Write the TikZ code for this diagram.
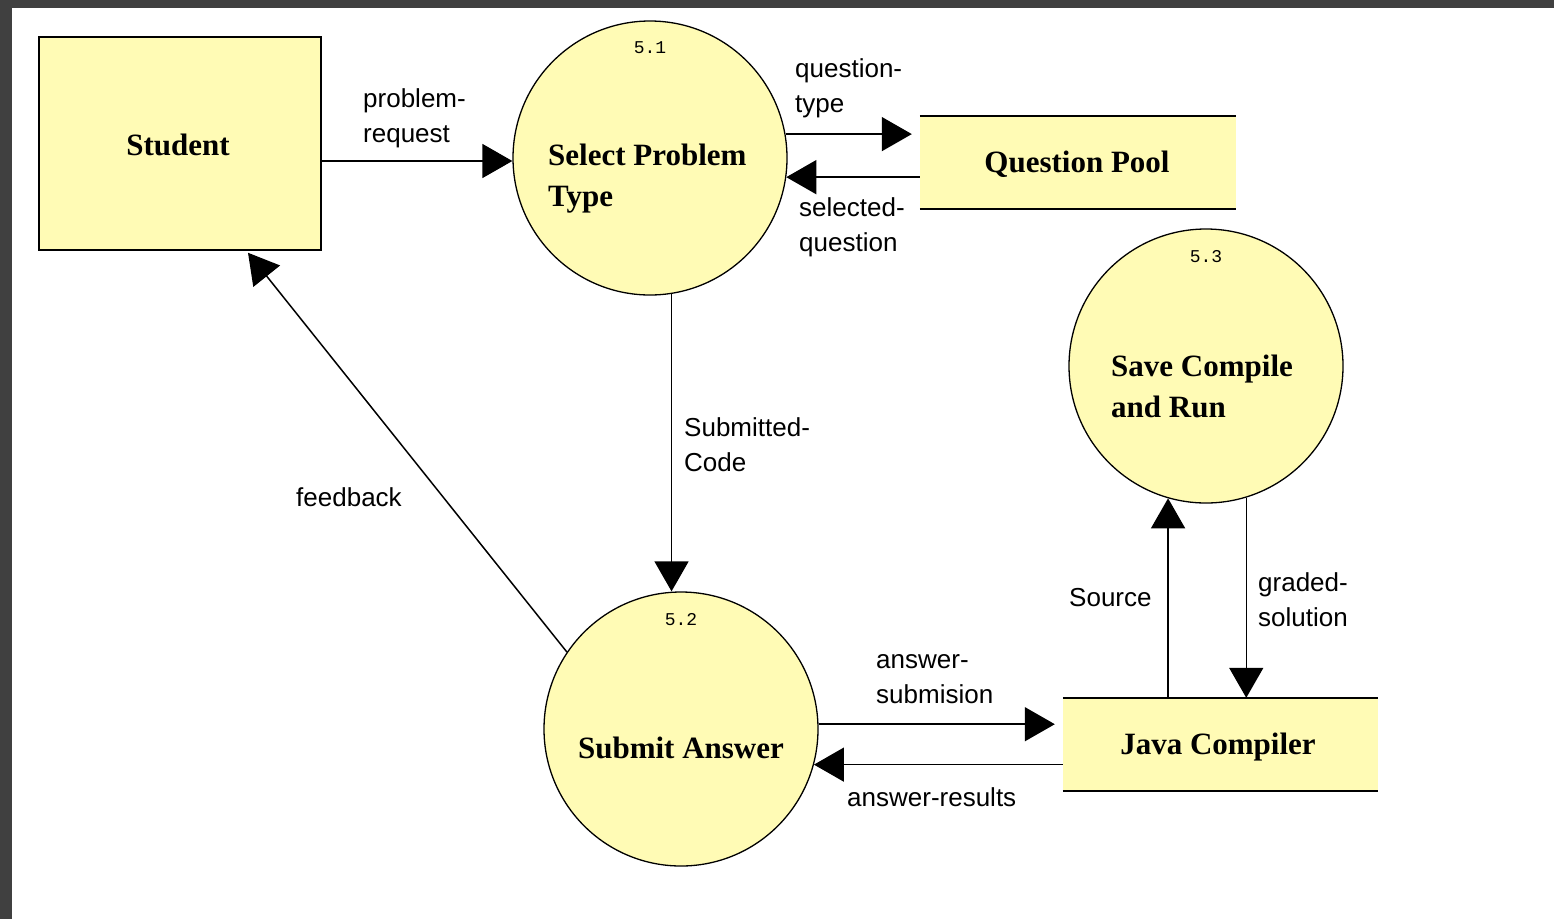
\documentclass[tikz,border=0pt]{standalone}
\usepackage{fontspec}
\setmainfont{Liberation Serif}
\setsansfont{Liberation Sans}
\setmonofont{Liberation Mono}
\usetikzlibrary{arrows.meta}
\definecolor{frame}{RGB}{64,64,64}
\definecolor{pale}{RGB}{255,251,181}
\tikzset{
  x=1pt, y=-1pt,
  ent/.style={draw=black, line width=1.5pt, fill=pale, rectangle, minimum width=282pt, minimum height=213pt, inner sep=0pt},
  storefill/.style={fill=pale, rectangle, inner sep=0pt, minimum height=93pt},
  proc/.style={draw=black, line width=1.3pt, fill=pale, circle, minimum size=274pt, inner sep=0pt},
  ptxt/.style={font=\bfseries\fontsize{31}{41}\selectfont, align=left, inner sep=0pt},
  num/.style={font=\ttfamily\fontsize{18}{18}\selectfont, inner sep=0pt},
  lbl/.style={font=\sffamily\fontsize{26}{35}\selectfont, align=left, inner sep=0pt, anchor=west},
  flow/.style={draw=black, line width=1.5pt, -{Triangle[length=30pt, width=34pt]}},
}
\begin{document}
\begin{tikzpicture}
\useasboundingbox (0,0) rectangle (1554,919);
\fill[frame] (0,0) rectangle (1554,919);
\fill[white] (12,8) rectangle (1554,919);

% entities / stores
\node[ent] (student) at (180,143.5) {};
\node[ptxt] (studenttxt) at (178,145) {Student};

\node[storefill, minimum width=316pt] (qpool) at (1078,162.5) {};
\draw[line width=1.5pt] (qpool.north west) -- (qpool.north east);
\draw[line width=1.5pt] (qpool.south west) -- (qpool.south east);
\node[ptxt] (qpooltxt) at (1077,164) {Question Pool};

\node[storefill, minimum width=315pt] (java) at (1220.5,744.5) {};
\draw[line width=1.5pt] (java.north west) -- (java.north east);
\draw[line width=1.5pt] (java.south west) -- (java.south east);
\node[ptxt] (javatxt) at (1218,747) {Java Compiler};

% processes
\node[proc] (p51) at (650,158) {};
\node[num] (n51) at (650,48) {5.1};
\node[ptxt, anchor=west] (t51) at (548,179) {Select Problem\\Type};

\node[proc] (p52) at (681,729) {};
\node[num] (n52) at (681,620) {5.2};
\node[ptxt] (t52) at (681,748) {Submit Answer};

\node[proc] (p53) at (1206,366) {};
\node[num] (n53) at (1206,257) {5.3};
\node[ptxt, anchor=west] (t53) at (1111,386) {Save Compile\\and Run};

% flows
\draw[flow] (student.east |- 0,161) -- (p51.west |- 0,161);
\draw[flow, shorten >=8pt] (p51.10.9) -- (qpool.west |- p51.10.9);
\draw[flow] (qpool.west |- p51.-8.4) -- (p51.-8.4);
\draw[flow] (p51.-81.2) -- (p51.-81.2 |- p52.north);
\draw[flow] (p52.146.5) -- ([xshift=68pt,yshift=-2pt]student.south);
\draw[flow, shorten >=8pt] (p52.2.9) -- (java.west |- p52.2.9);
\draw[flow] (java.west |- p52.-15.7) -- (p52.-15.7);
\draw[flow] (java.north -| p53.-106.5) -- (p53.-106.5);
\draw[flow] (p53.-73.5) -- (java.north -| p53.-73.5);

% labels
\node[lbl] (l1) at (363,118) {problem-\\request};
\node[lbl] (l2) at (795,88) {question-\\type};
\node[lbl] (l3) at (799,227) {selected-\\question};
\node[lbl] (l4) at (684,445) {Submitted-\\Code};
\node[lbl] (l5) at (296,497) {feedback};
\node[lbl] (l6) at (876,679) {answer-\\submision};
\node[lbl] (l7) at (847,797) {answer-results};
\node[lbl] (l8) at (1069,598) {Source};
\node[lbl] (l9) at (1258,600) {graded-\\solution};
\end{tikzpicture}
\end{document}
